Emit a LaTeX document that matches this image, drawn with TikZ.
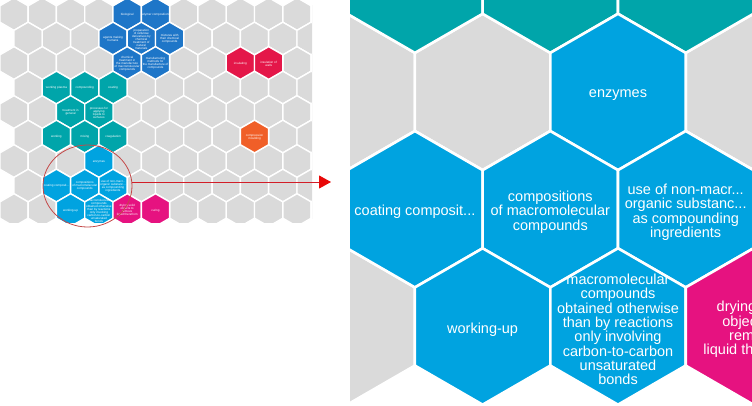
\documentclass[tikz,border=0pt]{standalone}
\usepackage{fontspec}
\setmainfont{Liberation Sans}
\usetikzlibrary{shapes.geometric,arrows.meta}

\definecolor{hexgray}{RGB}{218,218,218}
\definecolor{hexteal}{RGB}{0,165,170}
\definecolor{hexlblue}{RGB}{0,163,224}
\definecolor{hexdblue}{RGB}{30,118,200}
\definecolor{hexred}{RGB}{228,23,73}
\definecolor{hexmag}{RGB}{230,18,128}
\definecolor{hexorange}{RGB}{240,95,40}
\definecolor{focusred}{RGB}{196,72,72}
\definecolor{arrowred}{RGB}{210,30,40}
\definecolor{arrowhead}{RGB}{232,8,8}

\tikzset{
  hextext/.style={text=white, font=\fontsize{14.5}{14.3}\selectfont,
    align=center, inner sep=0pt, transform shape},
  focusring/.style={draw=focusred, line width=0.8pt, ellipse, inner sep=0pt},
  pointer/.style={draw=arrowred, line width=0.9pt,
    -{Triangle[length=12pt,width=13pt,color=arrowhead]}}
}

% grid position of hex (row, col) in large-panel units
\newcommand\hexpos[2]{%
  \pgfmathsetmacro\hX{(#2+0.5*mod(#1,2))*135.4}%
  \pgfmathsetmacro\hY{#1*117.26}}

% one hexagon: row, col, colour, gap width
\newcommand\hexcell[4]{%
  \hexpos{#1}{#2}%
  \filldraw[fill=#3, draw=white, line width=#4]
    (\hX,\hY) +(30:78.17) -- +(90:78.17) -- +(150:78.17) -- +(210:78.17)
    -- +(270:78.17) -- +(330:78.17) -- cycle;}

% one label: prefix, row, col, name, text
\newcommand\hexlabel[5]{%
  \hexpos{#2}{#3}%
  \node[hextext] (#1-#4) at (\hX,\hY+3) {#5};}

% all hexagons of the map: gap width
\newcommand\drawcells[1]{%
  \foreach \r in {0,...,8}{\foreach \k in {0,...,11}{\hexcell{\r}{\k}{hexgray}{#1}}}
  \foreach \r/\k/\c in {0/4/hexdblue,0/5/hexdblue,1/3/hexdblue,1/4/hexdblue,
      1/5/hexdblue,2/4/hexdblue,2/5/hexdblue,2/8/hexred,2/9/hexred,
      3/1/hexteal,3/2/hexteal,3/3/hexteal,4/2/hexteal,4/3/hexteal,
      5/1/hexteal,5/2/hexteal,5/3/hexteal,5/8/hexorange,
      6/3/hexlblue,7/1/hexlblue,7/2/hexlblue,7/3/hexlblue,8/2/hexlblue,
      8/3/hexlblue,8/4/hexmag,8/5/hexmag}{\hexcell{\r}{\k}{\c}{#1}}}

% labels of the part shown in both views: prefix
\newcommand\detaillabels[1]{%
  \hexlabel{#1}{6}{3}{enzymes}{enzymes}
  \hexlabel{#1}{7}{1}{coating}{coating composit...}
  \hexlabel{#1}{7}{2}{compositions}{compositions\\of macromolecular\\compounds}
  \hexlabel{#1}{7}{3}{useof}{use of non-macr...\\organic substanc...\\as compounding\\ingredients}
  \hexlabel{#1}{8}{2}{workingup}{working-up}
  \hexlabel{#1}{8}{3}{macro}{macromolecular\\compounds\\obtained otherwise\\than by reactions\\only involving\\carbon-to-carbon\\unsaturated\\bonds}
  \hexlabel{#1}{8}{4}{drying}{drying solid\\objects to\\remove\\liquid therefrom}}

% labels only seen in the overview: prefix
\newcommand\overviewlabels[1]{%
  \hexlabel{#1}{0}{4}{bio}{biological}
  \hexlabel{#1}{0}{5}{polycomp}{polymer compositions}
  \hexlabel{#1}{1}{3}{agents}{agents making\\humans}
  \hexlabel{#1}{1}{4}{prep}{preparation\\of cellulose\\derivatives by\\chemical\\treatment of\\natural\\materials}
  \hexlabel{#1}{1}{5}{mixtures}{mixtures with\\their chemical\\compounds}
  \hexlabel{#1}{2}{4}{chemtreat}{chemical\\treatment in\\the manufacture\\of macromolecular\\compounds}
  \hexlabel{#1}{2}{5}{manuf}{manufacturing\\methods for\\the manufacture of\\compounds}
  \hexlabel{#1}{2}{8}{insulating}{insulating}
  \hexlabel{#1}{2}{9}{insulation}{insulation of\\walls}
  \hexlabel{#1}{3}{1}{plasma}{working plasma}
  \hexlabel{#1}{3}{2}{compounding}{compounding}
  \hexlabel{#1}{3}{3}{coatingB}{coating}
  \hexlabel{#1}{4}{2}{treatment}{treatment in\\general}
  \hexlabel{#1}{4}{3}{liquids}{processes for\\applying\\liquids to\\surfaces}
  \hexlabel{#1}{5}{1}{working}{working}
  \hexlabel{#1}{5}{2}{mixing}{mixing}
  \hexlabel{#1}{5}{3}{coagulation}{coagulation}
  \hexlabel{#1}{5}{8}{moulding}{compression\\moulding}
  \hexlabel{#1}{8}{5}{curing}{curing}}

\begin{document}
\begin{tikzpicture}[x=1pt,y=-1pt]
  \useasboundingbox[fill=white] (0,0) rectangle (752,405);

  % small overview map
  \begin{scope}
    \clip (0,0) rectangle (312,222);
    \begin{scope}[shift={(14,14)}, scale=0.209, transform shape]
      \drawcells{1.4pt}
      \overviewlabels{S}
      \detaillabels{S}
    \end{scope}
  \end{scope}

  % enlarged detail
  \begin{scope}
    \clip (350,0) rectangle (752,405);
    \begin{scope}[shift={(211.8,-611.6)}]
      \drawcells{2.6pt}
      \detaillabels{B}
    \end{scope}
  \end{scope}

  % focus ring and pointer
  \node[focusring, minimum width=89pt, minimum height=82pt] (focus) at (87.5,186) {};
  \coordinate (tip) at (331,182);
  \draw[pointer] (focus.east |- tip) -- (tip);
\end{tikzpicture}
\end{document}
